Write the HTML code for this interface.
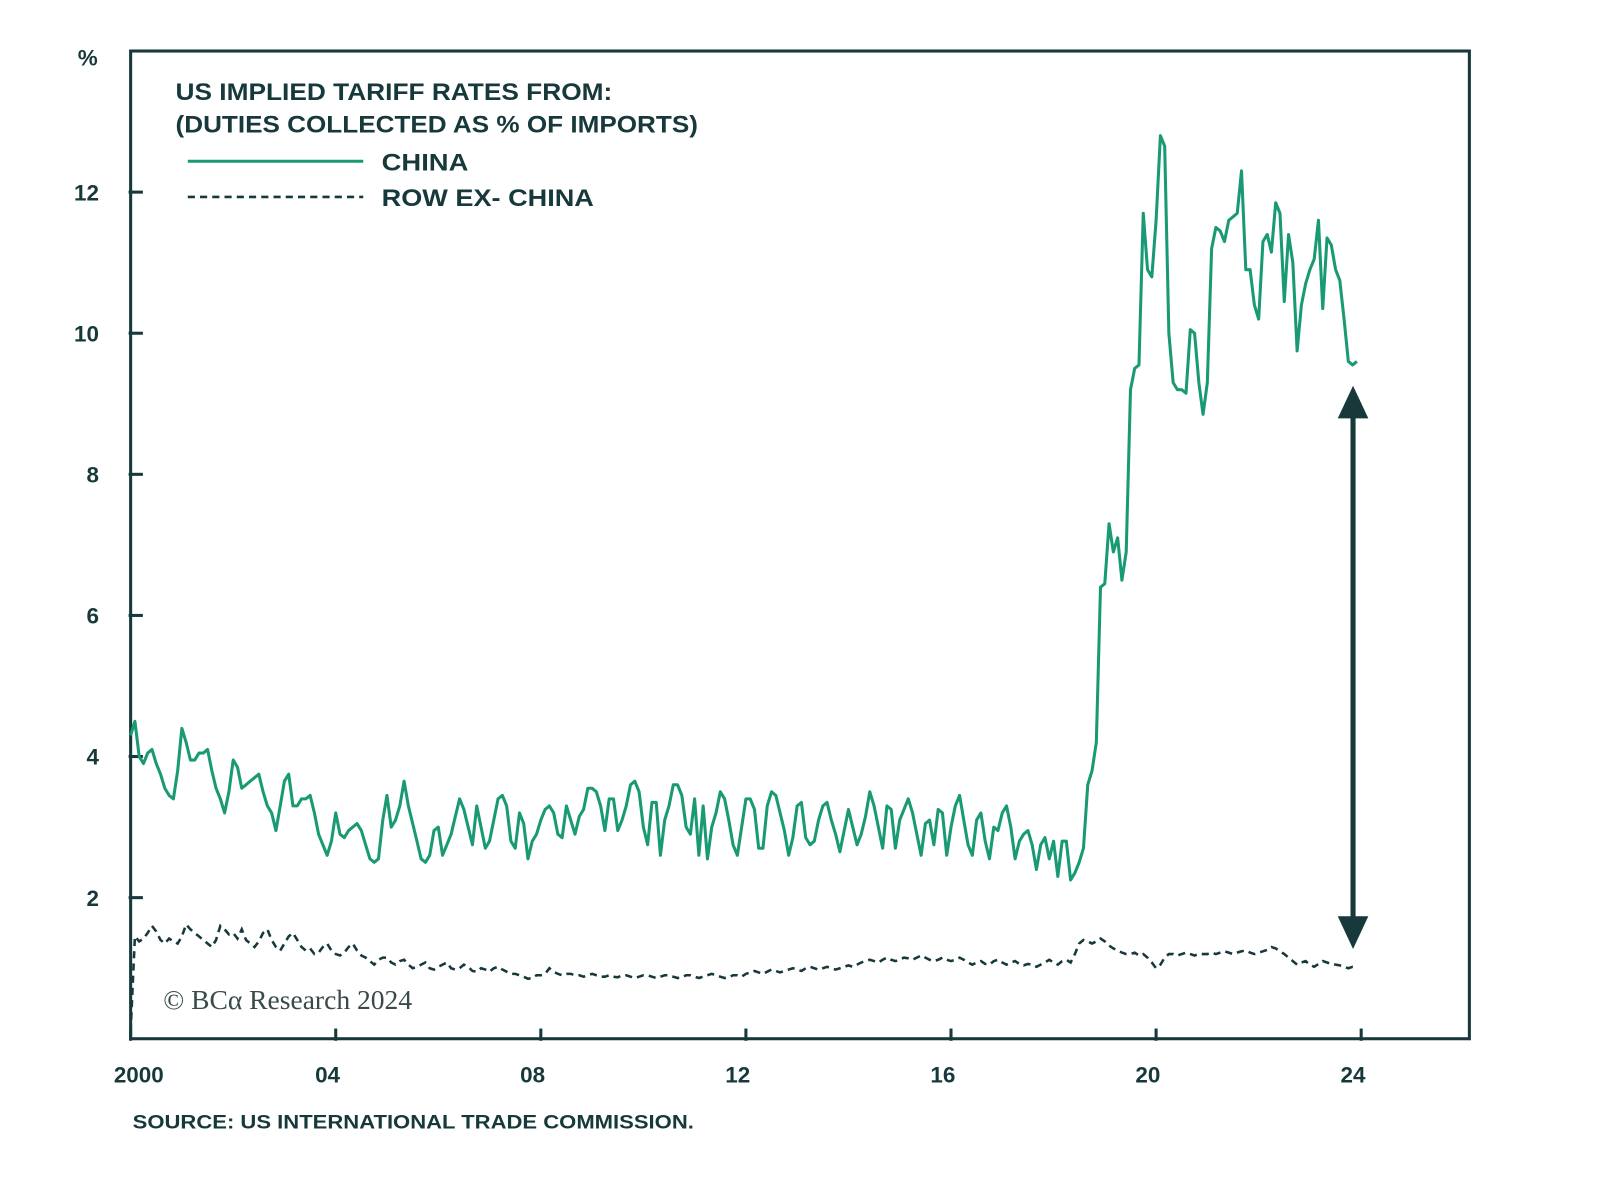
<!DOCTYPE html>
<html><head><meta charset="utf-8"><style>
body{margin:0;background:#fff}
svg text{font-family:"Liberation Sans",sans-serif}
</style></head><body>
<svg id="chart" width="1600" height="1177" viewBox="0 0 1568 1153.5" xmlns="http://www.w3.org/2000/svg">
<g id="axes"></g>
<g id="series"></g>
<text x="86" y="64" font-size="22" fill="#17393b" text-anchor="middle" font-weight="bold">%</text>
<text x="172" y="98" font-size="24" font-weight="bold" fill="#17393b" textLength="428" lengthAdjust="spacingAndGlyphs">US IMPLIED TARIFF RATES FROM:</text>
<text x="172" y="130" font-size="24" font-weight="bold" fill="#17393b" textLength="512" lengthAdjust="spacingAndGlyphs">(DUTIES COLLECTED AS % OF IMPORTS)</text>
<g>
<line x1="184" y1="158" x2="356" y2="158" stroke="#1a9a74" stroke-width="3"/>
<text x="374" y="167" font-size="24" font-weight="bold" fill="#17393b" textLength="85" lengthAdjust="spacingAndGlyphs">CHINA</text>
<line x1="184" y1="193" x2="356" y2="193" stroke="#17393b" stroke-width="2.5" stroke-dasharray="7,5"/>
<text x="374" y="202" font-size="24" font-weight="bold" fill="#17393b" textLength="208" lengthAdjust="spacingAndGlyphs">ROW EX- CHINA</text>
</g>
<text x="160" y="989" font-size="27" fill="#3a4a4a" style="font-family:'Liberation Serif',serif">© BCα Research 2024</text>
<text x="130" y="1106" font-size="19" font-weight="bold" fill="#17393b" textLength="550" lengthAdjust="spacingAndGlyphs">SOURCE: US INTERNATIONAL TRADE COMMISSION.</text>
<g>
<line x1="1326" y1="400" x2="1326" y2="910" stroke="#17393b" stroke-width="5"/>
<polygon points="1326,378 1311,410 1341,410" fill="#17393b"/>
<polygon points="1326,930 1311,898 1341,898" fill="#17393b"/>
</g>
</svg>
<script>
const yTicks=[2,4,6,8,10,12];
const xTickYears=[2000,2004,2008,2012,2016,2020,2024];
const xTickLabels=["2000","04","08","12","16","20","24"];
const startYear=2000;
const china=[
4.3,4.5,4.0,3.9,4.05,4.1,3.9,3.75,3.55,3.45,3.4,3.8,
4.4,4.2,3.95,3.95,4.05,4.05,4.1,3.8,3.55,3.4,3.2,3.5,
3.95,3.85,3.55,3.6,3.65,3.7,3.75,3.5,3.3,3.2,2.95,3.3,
3.65,3.75,3.3,3.3,3.4,3.4,3.45,3.2,2.9,2.75,2.6,2.8,
3.2,2.9,2.85,2.95,3.0,3.05,2.95,2.75,2.55,2.5,2.55,3.1,
3.45,3.0,3.1,3.3,3.65,3.3,3.05,2.8,2.55,2.5,2.6,2.95,
3.0,2.6,2.75,2.9,3.15,3.4,3.25,3.0,2.75,3.3,3.0,2.7,
2.8,3.1,3.4,3.45,3.3,2.8,2.7,3.2,3.05,2.55,2.8,2.9,
3.1,3.25,3.3,3.2,2.9,2.85,3.3,3.1,2.9,3.15,3.25,3.55,
3.55,3.5,3.3,2.95,3.4,3.4,2.95,3.1,3.3,3.6,3.65,3.5,
3.0,2.75,3.35,3.35,2.6,3.1,3.3,3.6,3.6,3.45,3.0,2.9,
3.4,2.6,3.3,2.55,3.0,3.2,3.5,3.4,3.1,2.75,2.6,3.0,
3.4,3.4,3.25,2.7,2.7,3.3,3.5,3.45,3.2,2.95,2.6,2.85,
3.3,3.35,2.85,2.75,2.8,3.1,3.3,3.35,3.1,2.9,2.65,2.95,
3.25,3.0,2.75,2.9,3.15,3.5,3.3,3.0,2.7,3.3,3.25,2.7,
3.1,3.25,3.4,3.2,2.9,2.6,3.05,3.1,2.75,3.25,3.2,2.6,
3.0,3.3,3.45,3.1,2.75,2.6,3.1,3.2,2.8,2.55,3.0,2.95,
3.2,3.3,3.0,2.55,2.8,2.9,2.95,2.75,2.4,2.75,2.85,2.55,
2.8,2.3,2.8,2.8,2.25,2.35,2.5,2.7,3.6,3.8,4.2,6.4,
6.45,7.3,6.9,7.1,6.5,6.9,9.2,9.5,9.55,11.7,10.9,10.8,
11.6,12.8,12.65,10.0,9.3,9.2,9.2,9.15,10.05,10.0,9.3,8.85,
9.3,11.2,11.5,11.45,11.3,11.6,11.65,11.7,12.3,10.9,10.9,10.4,
10.2,11.3,11.4,11.15,11.85,11.7,10.45,11.4,11.0,9.75,10.4,10.7,
10.9,11.05,11.6,10.35,11.35,11.25,10.9,10.75,10.2,9.6,9.55,9.6];
const row=[
0.1,1.45,1.38,1.42,1.5,1.6,1.52,1.4,1.35,1.42,1.38,1.35,
1.45,1.62,1.55,1.5,1.45,1.4,1.35,1.3,1.4,1.6,1.55,1.48,
1.5,1.42,1.55,1.4,1.35,1.3,1.38,1.5,1.55,1.4,1.3,1.25,
1.35,1.45,1.5,1.4,1.3,1.25,1.28,1.2,1.22,1.3,1.35,1.25,
1.2,1.18,1.22,1.3,1.35,1.25,1.18,1.15,1.1,1.05,1.12,1.15,
1.15,1.08,1.05,1.1,1.12,1.05,1.0,1.02,1.05,1.08,1.0,0.98,
1.02,1.05,1.08,1.0,0.98,1.0,1.05,1.02,0.96,0.95,1.0,0.98,
0.95,1.0,1.02,0.98,0.95,0.92,0.92,0.9,0.88,0.85,0.86,0.9,
0.9,0.92,1.0,0.95,0.92,0.9,0.92,0.92,0.9,0.9,0.88,0.9,
0.92,0.9,0.88,0.88,0.9,0.88,0.87,0.9,0.9,0.88,0.86,0.88,
0.9,0.9,0.88,0.86,0.88,0.9,0.9,0.88,0.86,0.87,0.9,0.9,
0.88,0.86,0.88,0.9,0.92,0.9,0.88,0.86,0.87,0.9,0.9,0.88,
0.92,0.94,0.96,0.94,0.92,0.95,0.98,0.96,0.94,0.96,0.98,1.0,
0.98,0.96,1.0,1.02,1.0,0.98,1.0,1.02,1.0,0.98,1.0,1.02,
1.04,1.02,1.05,1.08,1.1,1.12,1.1,1.08,1.12,1.15,1.12,1.1,
1.12,1.15,1.14,1.12,1.15,1.18,1.15,1.12,1.1,1.12,1.15,1.12,
1.1,1.12,1.15,1.12,1.08,1.05,1.08,1.1,1.06,1.05,1.1,1.12,
1.08,1.05,1.08,1.1,1.06,1.04,1.06,1.05,1.02,1.05,1.08,1.12,
1.08,1.05,1.1,1.12,1.08,1.2,1.35,1.4,1.38,1.35,1.38,1.42,
1.38,1.32,1.28,1.25,1.22,1.2,1.2,1.22,1.18,1.2,1.15,1.08,
1.0,1.05,1.15,1.2,1.2,1.18,1.2,1.22,1.2,1.18,1.2,1.2,
1.2,1.22,1.2,1.22,1.24,1.22,1.2,1.22,1.24,1.25,1.22,1.2,
1.22,1.24,1.26,1.3,1.28,1.24,1.2,1.15,1.1,1.05,1.08,1.1,
1.05,1.02,1.06,1.1,1.08,1.06,1.05,1.04,1.02,1.0,1.02,1.0];
const X0=128,X1=1440,Y0=1018,Y1=50,XMIN=2000,XMAX=2026.11,YMIN=0,YMAX=14;
const NS="http://www.w3.org/2000/svg";
function xs(t){return X0+(t-XMIN)/(XMAX-XMIN)*(X1-X0);}
function ys(v){return Y0-(v-YMIN)/(YMAX-YMIN)*(Y0-Y1);}
function mk(tag,attrs,parent){const e=document.createElementNS(NS,tag);for(const k in attrs)e.setAttribute(k,attrs[k]);parent.appendChild(e);return e;}
const axes=document.getElementById('axes');
const ser=document.getElementById('series');
const frame=mk('rect',{x:X0,y:Y1,width:X1-X0,height:Y0-Y1,fill:'none',stroke:'#17393b','stroke-width':3},axes);


yTicks.forEach(v=>{
  const t=mk('line',{x1:X0-2,x2:X0+12,y1:ys(v),y2:ys(v),stroke:'#17393b','stroke-width':3},axes);
  
  
  const l=mk('text',{x:97,y:ys(v)+8,'font-size':22,'font-weight':'bold',fill:'#17393b','text-anchor':'end'},axes);
  l.textContent=v;
  
  
});
xTickYears.forEach((yr,i)=>{
  const t=mk('line',{x1:xs(yr),x2:xs(yr),y1:Y0-10,y2:Y0+2,stroke:'#17393b','stroke-width':3},axes);
  
  
  const l=mk('text',{x:xs(yr)-(i==0?-8:8),y:1061,'font-size':22,'font-weight':'bold',fill:'#17393b','text-anchor':'middle'},axes);
  l.textContent=xTickLabels[i];
  
  
});
function path(arr){return arr.map((v,i)=>(i?'L':'M')+xs(startYear+i/12).toFixed(1)+','+ys(v).toFixed(1)).join(' ');}
const pr=mk('path',{d:path(row),fill:'none',stroke:'#17393b','stroke-width':2.5,'stroke-dasharray':'7,5'},ser);


const pc=mk('path',{d:path(china),fill:'none',stroke:'#1a9a74','stroke-width':3,'stroke-linejoin':'round'},ser);


</script>
</body></html>
